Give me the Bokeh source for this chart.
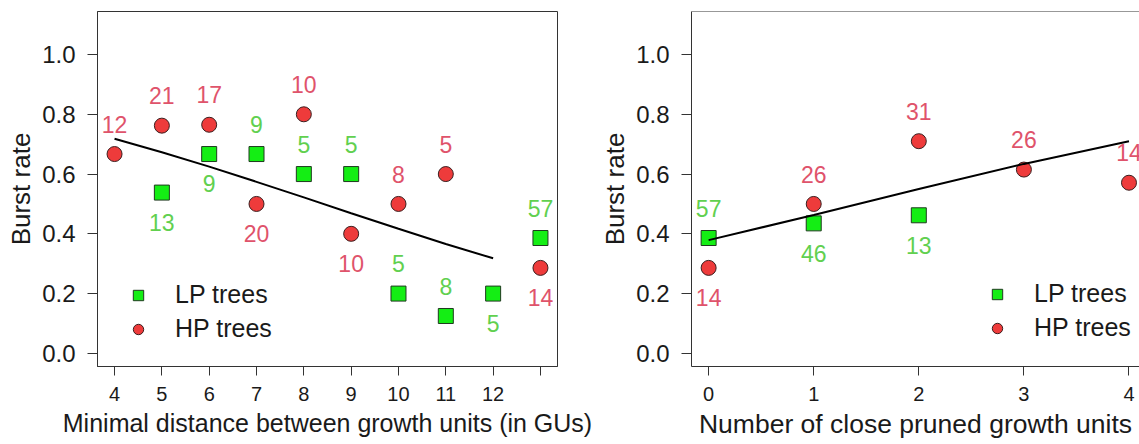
from bokeh.plotting import figure
from bokeh.layouts import row
from bokeh.models import (ColumnDataSource, FixedTicker, Legend, LegendItem,
                          Span, Range1d)
from bokeh.embed import file_html
from bokeh.resources import INLINE
from bokeh.core.properties import value

# ---------------- Left panel: minimal distance between growth units ----------
dist_lp_x = [5, 6, 7, 8, 9, 10, 11, 12, 13]
dist_lp_rate = [0.538, 0.667, 0.667, 0.600, 0.600, 0.200, 0.125, 0.200, 0.386]
dist_lp_n = [13, 9, 9, 5, 5, 5, 8, 5, 57]
dist_lp_side = ["below", "below", "above", "above", "above", "above", "above", "below", "above"]

dist_hp_x = [4, 5, 6, 7, 8, 9, 10, 11, 13]
dist_hp_rate = [0.667, 0.762, 0.765, 0.500, 0.800, 0.400, 0.500, 0.600, 0.286]
dist_hp_n = [12, 21, 17, 20, 10, 10, 8, 5, 14]
dist_hp_side = ["above", "above", "above", "below", "above", "below", "above", "above", "below"]

dist_fit_x = [4, 5, 6, 7, 8, 9, 10, 11, 12]
dist_fit_rate = [0.718, 0.673, 0.625, 0.574, 0.522, 0.469, 0.417, 0.366, 0.318]

dist_ticks = [4, 5, 6, 7, 8, 9, 10, 11, 12, 13]
dist_tick_labels = ["4", "5", "6", "7", "8", "9", "10", "11", "12", ""]
dist_xlabel = "Minimal distance between growth units (in GUs)"

# ---------------- Right panel: number of close pruned growth units -----------
prun_lp_x = [0, 1, 2]
prun_lp_rate = [0.386, 0.435, 0.462]
prun_lp_n = [57, 46, 13]
prun_lp_side = ["above", "below", "below"]

prun_hp_x = [0, 1, 2, 3, 4]
prun_hp_rate = [0.286, 0.500, 0.710, 0.615, 0.571]
prun_hp_n = [14, 26, 31, 26, 14]
prun_hp_side = ["below", "above", "above", "above", "above"]

prun_fit_x = [0, 1, 2, 3, 4]
prun_fit_rate = [0.379, 0.463, 0.550, 0.634, 0.710]

prun_ticks = [0, 1, 2, 3, 4]
prun_tick_labels = ["0", "1", "2", "3", "4"]
prun_xlabel = "Number of close pruned growth units"

y_ticks = [0.0, 0.2, 0.4, 0.6, 0.8, 1.0]
y_tick_labels = ["0.0", "0.2", "0.4", "0.6", "0.8", "1.0"]
y_label = "Burst rate"
legend_labels = ["LP trees", "HP trees"]

FONT = "Liberation Sans"
LP_FILL = "#14EE14"
HP_FILL = "#EE3B3B"
LP_TEXT = "#61D04F"
HP_TEXT = "#DF536B"
FRAME = "#333333"
INK = "#1a1a1a"
LABEL_SHIFT = 0.1


def label_source(xs, rates, ns, sides):
    ys = [r + LABEL_SHIFT if s == "above" else r - LABEL_SHIFT
          for r, s in zip(rates, sides)]
    return ColumnDataSource(dict(x=xs, y=ys, t=[str(n) for n in ns]))


def make_panel(xr, ticks, tick_labels, xlabel, xlabel_size, lp, hp, fit, width,
               border_left, border_right, legend_loc, boxed):
    p = figure(width=width, height=444, x_range=Range1d(*xr),
               y_range=Range1d(-0.044, 1.144), output_backend="svg",
               toolbar_location=None, min_border_left=border_left,
               min_border_right=border_right, min_border_top=11,
               min_border_bottom=78)
    p.grid.visible = False
    p.background_fill_color = "white"
    p.border_fill_color = "white"
    if boxed:
        p.outline_line_color = FRAME
        p.outline_line_width = 1
    else:
        p.outline_line_color = None
        p.add_layout(Span(location=1.144, dimension="width",
                          line_color=FRAME, line_width=1))

    # axes
    p.xaxis.ticker = FixedTicker(ticks=ticks)
    p.xaxis.major_label_overrides = {t: l for t, l in zip(ticks, tick_labels)}
    p.yaxis.ticker = FixedTicker(ticks=y_ticks)
    p.yaxis.major_label_overrides = {t: l for t, l in zip(y_ticks, y_tick_labels)}
    for ax in (p.xaxis, p.yaxis):
        ax.axis_line_color = FRAME
        ax.major_tick_line_color = FRAME
        ax.minor_tick_line_color = None
        ax.major_tick_in = 0
        ax.major_label_text_font = FONT
        ax.major_label_text_color = INK
        ax.axis_label_text_font = FONT
        ax.axis_label_text_font_style = "normal"
        ax.axis_label_text_color = INK
    p.xaxis.major_tick_out = 9
    p.xaxis.major_label_standoff = 11
    p.xaxis.major_label_text_font_size = "20px"
    p.xaxis.axis_label_standoff = 5
    p.xaxis.axis_label_text_font_size = xlabel_size
    p.xaxis.axis_label = xlabel
    p.yaxis.major_tick_out = 10
    p.yaxis.major_label_standoff = 12
    p.yaxis.major_label_text_font_size = "24px"
    p.yaxis.axis_label_standoff = 3
    p.yaxis.axis_label_text_font_size = "26px"
    p.yaxis.axis_label = y_label

    lp_x, lp_rate, lp_n, lp_side = lp
    hp_x, hp_rate, hp_n, hp_side = hp
    fx, fy = fit

    r_lp = p.scatter(lp_x, lp_rate, marker="square", size=15,
                     fill_color=LP_FILL, line_color="#1f3a1f", line_width=1)
    r_hp = p.scatter(hp_x, hp_rate, marker="circle", size=15,
                     fill_color=HP_FILL, line_color="#3a1f1f", line_width=1)
    p.line(fx, fy, line_color="black", line_width=2)

    p.text(x="x", y="y", text="t", source=label_source(lp_x, lp_rate, lp_n, lp_side),
           text_color=LP_TEXT, text_font=value(FONT), text_font_size="23px",
           text_align="center", text_baseline="middle")
    p.text(x="x", y="y", text="t", source=label_source(hp_x, hp_rate, hp_n, hp_side),
           text_color=HP_TEXT, text_font=value(FONT), text_font_size="23px",
           text_align="center", text_baseline="middle")

    legend = Legend(items=[LegendItem(label=legend_labels[0], renderers=[r_lp]),
                           LegendItem(label=legend_labels[1], renderers=[r_hp])],
                    location=legend_loc, border_line_color=None,
                    background_fill_alpha=0, padding=0, margin=0, spacing=5,
                    glyph_width=26, glyph_height=26, label_height=26,
                    label_standoff=24, label_text_font=FONT,
                    label_text_font_size="25px", label_text_color=INK)
    p.add_layout(legend)
    return p


p1 = make_panel((3.64, 13.36), dist_ticks, dist_tick_labels, dist_xlabel, "25px",
                (dist_lp_x, dist_lp_rate, dist_lp_n, dist_lp_side),
                (dist_hp_x, dist_hp_rate, dist_hp_n, dist_hp_side),
                (dist_fit_x, dist_fit_rate),
                width=597, border_left=97, border_right=40,
                legend_loc=(28, 23), boxed=True)

p2 = make_panel((-0.163, 4.10), prun_ticks, prun_tick_labels, prun_xlabel, "26.5px",
                (prun_lp_x, prun_lp_rate, prun_lp_n, prun_lp_side),
                (prun_hp_x, prun_hp_rate, prun_hp_n, prun_hp_side),
                (prun_fit_x, prun_fit_rate),
                width=542, border_left=89, border_right=0,
                legend_loc=(293, 24), boxed=False)

layout = row(p1, p2)
open("out.html", "w").write(file_html(layout, INLINE))
